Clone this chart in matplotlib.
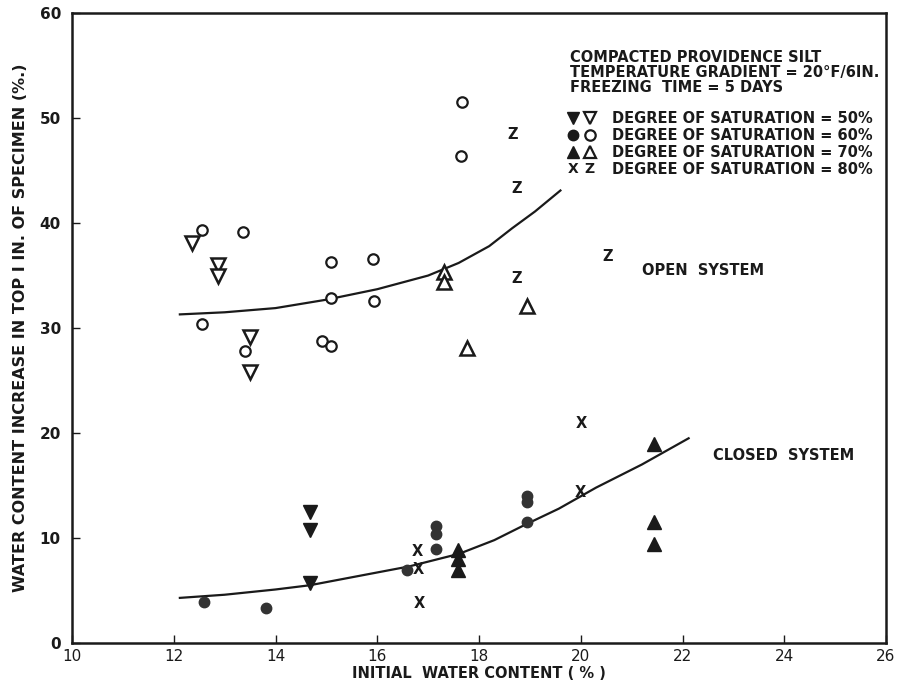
import matplotlib
matplotlib.use("Agg")
import matplotlib.pyplot as plt

plt.rcParams['font.family'] = ['DejaVu Sans']

# ---------------- data ----------------
# Open system
open_s50_x = [12.35, 12.86, 12.86, 13.49, 13.49]
open_s50_y = [38.1, 36.0, 35.0, 29.1, 25.8]
open_s60_x = [12.55, 13.37, 12.55, 13.40, 17.67, 17.65, 15.10, 15.92, 15.10, 15.94, 14.92, 15.10]
open_s60_y = [39.3, 39.1, 30.4, 27.8, 51.5, 46.4, 36.3, 36.6, 32.9, 32.6, 28.8, 28.3]
open_s70_x = [17.31, 17.31, 17.76, 18.94]
open_s70_y = [35.3, 34.4, 28.1, 32.1]
open_s80_x = [18.67, 18.73, 18.73, 20.53]
open_s80_y = [48.4, 43.3, 34.7, 36.8]

# Closed system
closed_s50_x = [14.67, 14.67, 14.67]
closed_s50_y = [12.5, 10.8, 5.7]
closed_s60_x = [12.60, 13.82, 16.59, 17.16, 17.16, 17.16, 18.94, 18.94, 18.94]
closed_s60_y = [3.9, 3.3, 6.95, 8.95, 10.4, 11.1, 14.0, 13.4, 11.5]
closed_s70_x = [17.59, 17.59, 17.59, 21.43, 21.43, 21.43]
closed_s70_y = [8.9, 8.0, 7.0, 19.0, 11.5, 9.4]
closed_s80_x = [16.78, 16.80, 16.82, 20.02, 20.00]
closed_s80_y = [8.7, 7.0, 3.8, 20.9, 14.3]

# Trend curves
open_curve_x = [12.12, 13.0, 14.0, 15.0, 16.0, 17.0, 17.6, 18.2, 18.65, 19.1, 19.6]
open_curve_y = [31.3, 31.5, 31.9, 32.7, 33.7, 35.0, 36.2, 37.8, 39.5, 41.1, 43.1]
closed_curve_x = [12.12, 13.0, 14.0, 14.67, 15.65, 16.63, 17.61, 18.3, 18.92, 19.57, 20.3, 21.2, 22.12]
closed_curve_y = [4.3, 4.6, 5.1, 5.5, 6.4, 7.3, 8.5, 9.8, 11.3, 12.8, 14.8, 17.0, 19.5]

xticks = [10, 12, 14, 16, 18, 20, 22, 24, 26]
yticks = [0, 10, 20, 30, 40, 50, 60]

# ---------------- figure ----------------
fig = plt.figure(figsize=(9.08, 6.87), dpi=100)
ax = fig.add_axes([0.0793, 0.064, 0.8965, 0.917])
ax.set_xlim(10, 26)
ax.set_ylim(0, 60)

ink = '#1a1a1a'
ax.plot(open_curve_x, open_curve_y, color=ink, lw=1.6)
ax.plot(closed_curve_x, closed_curve_y, color=ink, lw=1.6)

ms_tri = 9.5
ms_c = 7.5
ax.plot(open_s50_x, open_s50_y, 'v', ms=ms_tri, mfc='white', mec=ink, mew=1.8, ls='none')
ax.plot(open_s60_x, open_s60_y, 'o', ms=ms_c, mfc='white', mec=ink, mew=1.6, ls='none')
ax.plot(open_s70_x, open_s70_y, '^', ms=ms_tri, mfc='white', mec=ink, mew=1.8, ls='none')
for x, y in zip(open_s80_x, open_s80_y):
    ax.text(x, y, 'Z', ha='center', va='center', fontsize=10.5, fontweight='bold', color=ink)

ax.plot(closed_s50_x, closed_s50_y, 'v', ms=ms_tri, mfc=ink, mec=ink, ls='none')
ax.plot(closed_s60_x, closed_s60_y, 'o', ms=ms_c, mfc='#333333', mec='#333333', ls='none')
ax.plot(closed_s70_x, closed_s70_y, '^', ms=ms_tri, mfc=ink, mec=ink, ls='none')
for x, y in zip(closed_s80_x, closed_s80_y):
    ax.text(x, y, 'X', ha='center', va='center', fontsize=10.5, fontweight='bold', color=ink)

# axes styling
for s in ax.spines.values():
    s.set_linewidth(1.8)
    s.set_color(ink)
ax.set_xticks(xticks)
ax.set_yticks(yticks)
ax.set_xticklabels([str(t) for t in xticks], fontsize=11, color=ink)
ax.set_yticklabels([str(t) for t in yticks], fontsize=11, fontweight='bold', color=ink)
ax.tick_params(axis='both', direction='in', length=6, width=1.0, colors=ink)
ax.tick_params(axis='x', pad=4)
ax.tick_params(axis='y', pad=8)

ax.set_xlabel('INITIAL  WATER CONTENT ( % )', fontsize=10.5, fontweight='bold', color=ink, labelpad=2)
ax.set_ylabel('WATER CONTENT INCREASE IN TOP I IN. OF SPECIMEN (%.)', fontsize=11.5,
              fontweight='bold', color=ink, labelpad=8)

# header text block
tx = 0.612
ax.text(tx, 0.930, 'COMPACTED PROVIDENCE SILT', transform=ax.transAxes, fontsize=10.5,
        fontweight='bold', color=ink, va='center')
ax.text(tx, 0.906, 'TEMPERATURE GRADIENT = 20°F/6IN.', transform=ax.transAxes, fontsize=10.5,
        fontweight='bold', color=ink, va='center')
ax.text(tx, 0.882, 'FREEZING  TIME = 5 DAYS', transform=ax.transAxes, fontsize=10.5,
        fontweight='bold', color=ink, va='center')

leg_y = [0.833, 0.806, 0.779, 0.752]
labels = ['DEGREE OF SATURATION = 50%', 'DEGREE OF SATURATION = 60%',
          'DEGREE OF SATURATION = 70%', 'DEGREE OF SATURATION = 80%']
mx1, mx2 = 0.615, 0.636
styles = ['v', 'o', '^']
for i, (y, lab) in enumerate(zip(leg_y, labels)):
    if i < 3:
        m = styles[i]
        ms = 9 if m != 'o' else 7.5
        ax.plot([mx1], [y], m, ms=ms, mfc=ink, mec=ink, transform=ax.transAxes, clip_on=False)
        ax.plot([mx2], [y], m, ms=ms, mfc='white', mec=ink, mew=1.6, transform=ax.transAxes, clip_on=False)
    else:
        ax.text(mx1, y, 'X', transform=ax.transAxes, ha='center', va='center', fontsize=10,
                fontweight='bold', color=ink)
        ax.text(mx2, y, 'Z', transform=ax.transAxes, ha='center', va='center', fontsize=10,
                fontweight='bold', color=ink)
    ax.text(0.663, y, lab, transform=ax.transAxes, fontsize=10.5, fontweight='bold',
            color=ink, va='center')

ax.text(22.41, 35.5, 'OPEN  SYSTEM', fontsize=10.5, fontweight='bold', color=ink, ha='center', va='center')
ax.text(23.98, 17.9, 'CLOSED  SYSTEM', fontsize=10.5, fontweight='bold', color=ink, ha='center', va='center')

fig.savefig('out.png', dpi=100)
